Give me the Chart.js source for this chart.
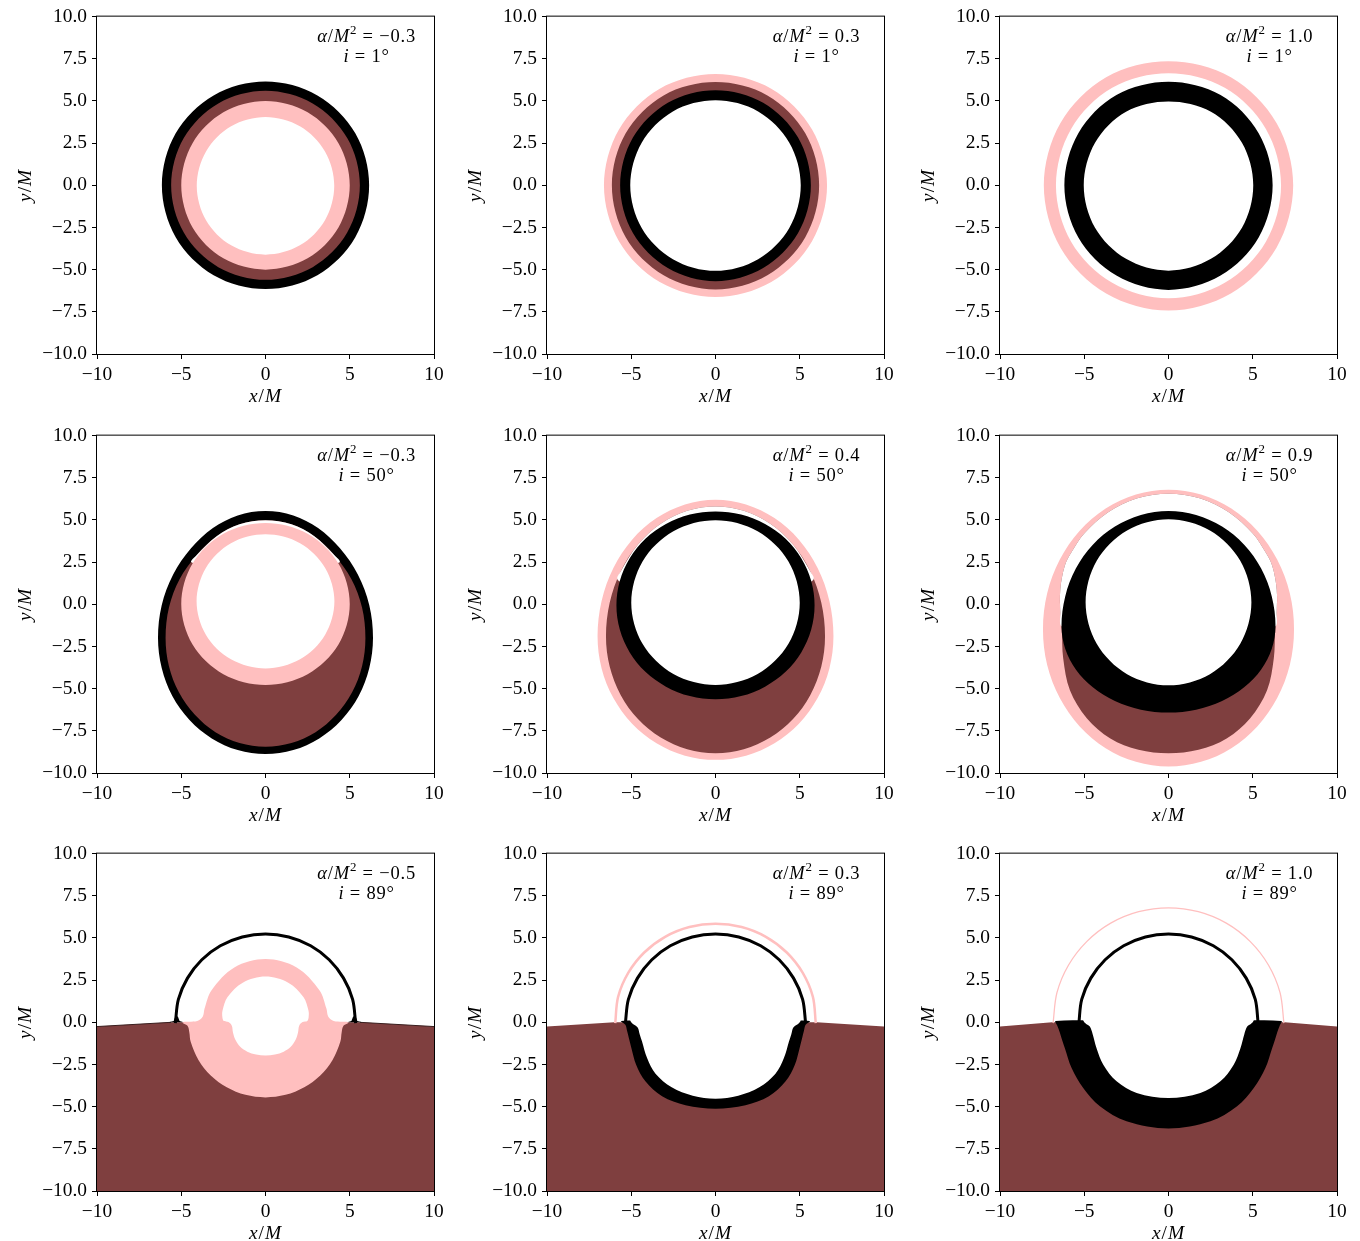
<!DOCTYPE html>
<html>
<head>
<meta charset="utf-8">
<script src="https://cdn.jsdelivr.net/npm/chart.js@4.4.1/dist/chart.umd.min.js"></script>
<style>
  html, body { margin: 0; padding: 0; background: #ffffff; }
  #fig { position: relative; width: 1360px; height: 1241px; overflow: hidden; background: #ffffff; }
  #fig canvas { position: absolute; }
</style>
</head>
<body>
<div id="fig"></div>
<script>
// ---- axes ----
const X_TICKS = [-10, -5, 0, 5, 10];
const Y_TICKS = [-10, -7.5, -5, -2.5, 0, 2.5, 5, 7.5, 10];

// ---- panel parameters (row by row) ----
const ALPHA_LABELS = ['\u22120.3', '0.3', '1.0', '\u22120.3', '0.4', '0.9', '\u22120.5', '0.3', '1.0'];
const INCLINATIONS = ['1', '1', '1', '50', '50', '50', '89', '89', '89'];

const PINK = '#ffbfbf', BROWN = '#7f3f3f', BLACK = '#000000', WHITE = '#ffffff';

// ---- image contours (x/M, y/M); left halves listed from top to bottom ----
// i = 1 deg
const P1_BLACK = [[0,6.15],[-3.08,5.33],[-5.33,3.08],[-6.15,0],[-5.33,-3.08],[-3.08,-5.33],[0,-6.15]];
const P1_BROWN = [[0,5.6],[-2.8,4.85],[-4.85,2.8],[-5.6,0],[-4.85,-2.8],[-2.8,-4.85],[0,-5.6]];
const P1_PINK  = [[0,5.0],[-2.5,4.33],[-4.33,2.5],[-5.0,0],[-4.33,-2.5],[-2.5,-4.33],[0,-5.0]];
const P1_HOLE  = [[0,4.05],[-2.04,3.5],[-3.53,2.01],[-4.08,-0.03],[-3.53,-2.07],[-2.04,-3.56],[0,-4.11]];

const P2_PINK  = [[0,6.6],[-3.31,5.73],[-5.73,3.31],[-6.62,0],[-5.73,-3.31],[-3.31,-5.73],[0,-6.62]];
const P2_BROWN = [[0,6.12],[-3.08,5.33],[-5.33,3.08],[-6.15,0],[-5.33,-3.08],[-3.08,-5.33],[0,-6.17]];
const P2_BLACK = [[0,5.64],[-2.83,4.9],[-4.9,2.83],[-5.66,0],[-4.9,-2.83],[-2.83,-4.9],[0,-5.68]];
const P2_HOLE  = [[0,5.04],[-2.53,4.38],[-4.38,2.53],[-5.06,0],[-4.38,-2.53],[-2.53,-4.38],[0,-5.07]];

const P3_PINK  = [[0,7.35],[-3.7,6.41],[-6.41,3.7],[-7.4,0],[-6.41,-3.7],[-3.7,-6.41],[0,-7.42]];
const P3_GAP   = [[0,6.64],[-3.34,5.78],[-5.78,3.34],[-6.68,0],[-5.78,-3.34],[-3.34,-5.78],[0,-6.7]];
const P3_BLACK = [[0,6.14],[-3.09,5.35],[-5.35,3.09],[-6.18,0],[-5.35,-3.09],[-3.09,-5.35],[0,-6.2]];
const P3_HOLE  = [[0,4.97],[-2.52,4.36],[-4.36,2.52],[-5.03,0],[-4.36,-2.52],[-2.52,-4.36],[0,-5.06]];

// i = 50 deg
const P4_BLACK = [[0,5.53],[-1.65,5.27],[-3.12,4.52],[-4.42,3.32],[-5.48,1.77],[-6.16,-0.05],[-6.38,-2.0],[-6.16,-3.78],[-5.53,-5.44],[-4.51,-6.86],[-3.19,-7.95],[-1.65,-8.64],[0,-8.87]];
const P4_BROWN = [[0,4.98],[-1.54,4.74],[-2.9,4.04],[-4.08,2.93],[-5.1,1.49],[-5.73,-0.19],[-5.93,-2.0],[-5.73,-3.67],[-5.14,-5.22],[-4.19,-6.55],[-2.97,-7.58],[-1.54,-8.22],[0,-8.44]];
const P4_CAP   = [[0,4.98],[-1.54,4.74],[-2.9,4.04],[-4.08,2.93],[-4.4,2.5],[-3.2,2.3],[0,2.3]];
const P4_PINK  = [[0,4.82],[-2.5,4.18],[-4.33,2.42],[-5.0,0.02],[-4.33,-2.38],[-2.5,-4.14],[0,-4.78]];
const P4_HOLE  = [[0,4.15],[-2.05,3.62],[-3.54,2.16],[-4.09,0.18],[-3.54,-1.8],[-2.05,-3.26],[0,-3.8]];

const P5_PINK  = [[0,6.2],[-1.81,5.92],[-3.5,5.11],[-4.95,3.83],[-6.06,2.15],[-6.76,0.2],[-7.0,-1.9],[-6.76,-3.8],[-6.06,-5.56],[-4.95,-7.08],[-3.5,-8.24],[-1.81,-8.97],[0,-9.22]];
const P5_BROWN = [[0,5.8],[-1.68,5.54],[-3.25,4.77],[-4.6,3.54],[-5.63,1.95],[-6.28,0.09],[-6.5,-1.9],[-6.28,-3.69],[-5.63,-5.37],[-4.6,-6.8],[-3.25,-7.9],[-1.68,-8.59],[0,-8.83]];
const P5_CAP   = [[0,5.8],[-1.68,5.54],[-3.25,4.77],[-4.6,3.54],[-5.63,1.95],[-5.83,1.5],[-5.3,1.2],[-3.0,1.0],[0,1.0]];
const P5_BLACK = [[0,5.51],[-1.52,5.32],[-2.94,4.76],[-4.16,3.88],[-5.09,2.73],[-5.68,1.38],[-5.88,-0.06],[-5.68,-1.5],[-5.09,-2.85],[-4.16,-4.0],[-2.94,-4.88],[-1.52,-5.44],[0,-5.63]];
const P5_HOLE  = [[0,4.98],[-2.5,4.33],[-4.33,2.54],[-5.0,0.1],[-4.33,-2.34],[-2.5,-4.13],[0,-4.78]];

const P6_PINK  = [[0,6.79],[-1.93,6.51],[-3.73,5.68],[-5.27,4.36],[-6.45,2.65],[-7.2,0.65],[-7.45,-1.5],[-7.2,-3.6],[-6.45,-5.56],[-5.27,-7.24],[-3.73,-8.53],[-1.93,-9.34],[0,-9.62]];
const P6_BROWN = [[0,6.56],[-1.9,6.28],[-3.6,5.45],[-5.0,4.2],[-5.75,3.1],[-6.15,2.3],[-6.42,0.9],[-6.42,-0.5],[-6.33,-1.53],[-6.25,-3.2],[-5.85,-5.1],[-4.85,-6.75],[-3.45,-7.95],[-1.78,-8.62],[0,-8.83]];
const P6_CAP   = [[0,6.56],[-1.9,6.28],[-3.6,5.45],[-5.0,4.2],[-5.75,3.1],[-6.15,2.3],[-6.42,0.9],[-6.42,-0.5],[-6.36,-1.3],[-5.6,-1.1],[-3.0,-1.0],[0,-1.0]];
const P6_BLACK = [[0,5.53],[-1.64,5.3],[-3.18,4.61],[-4.49,3.53],[-5.5,2.12],[-6.13,0.47],[-6.35,-1.3],[-6.13,-2.63],[-5.5,-3.86],[-4.49,-4.92],[-3.18,-5.73],[-1.64,-6.25],[0,-6.42]];
const P6_HOLE  = [[0,5.04],[-2.46,4.38],[-4.26,2.58],[-4.92,0.12],[-4.26,-2.34],[-2.46,-4.14],[0,-4.8]];

// i = 89 deg: disk band, lensed images and thin rings (rings listed from left foot to apex)
const P7_BAND  = [[-10.5,-10.5],[-10.5,-0.28],[-5.6,0.0],[5.6,0.0],[10.5,-0.28],[10.5,-10.5],[-10.5,-10.5]];
const P7_EDGE  = [[-10.5,-0.28],[-5.6,0.0]];
const P7_PINK  = [[0,3.75],[-1.85,3.25],[-3.2,1.9],[-3.62,0.8],[-3.72,0.35],[-4.05,0.08],[-4.95,0.0],[-4.62,-0.22],[-4.52,-0.6],[-4.44,-1.15],[-3.98,-2.23],[-3.25,-3.15],[-2.3,-3.85],[-1.19,-4.3],[0,-4.45]];
const P7_HOLE  = [[0,2.71],[-1.35,2.35],[-2.25,1.5],[-2.55,0.7],[-2.56,0.3],[-2.48,0.08],[-2.2,0.02],[-2.0,-0.2],[-1.93,-0.6],[-1.78,-1.05],[-1.5,-1.45],[-1.08,-1.74],[-0.56,-1.91],[0,-1.96]];
const P7_RING  = [[-5.35,-0.05],[-5.17,1.36],[-4.63,2.62],[-3.78,3.71],[-2.68,4.54],[-1.38,5.06],[0,5.24]];
const P7_FOOT  = [[-5.75,0.0],[-5.45,0.08],[-5.35,0.35],[-5.2,0.35],[-5.1,0.08],[-4.85,0.0],[-5.75,0.0]];

const P8_BAND  = [[-10.5,-10.5],[-10.5,-0.28],[-6.0,0.0],[6.0,0.0],[10.5,-0.28],[10.5,-10.5],[-10.5,-10.5]];
const P8_BLACK = [[0,0.08],[-3.0,0.08],[-5.6,0.08],[-5.35,-0.15],[-5.25,-0.5],[-5.15,-0.9],[-4.99,-1.53],[-4.71,-2.51],[-4.16,-3.5],[-3.17,-4.39],[-1.78,-4.92],[0,-5.12]];
const P8_HOLE  = [[0,0.4],[-2.5,0.4],[-5.08,0.4],[-5.05,0.1],[-4.9,-0.1],[-4.62,-0.3],[-4.5,-0.7],[-4.36,-1.13],[-4.06,-2.12],[-3.56,-3.05],[-2.6,-3.85],[-1.35,-4.35],[0,-4.53]];
const P8_RING  = [[-5.35,-0.05],[-5.17,1.36],[-4.63,2.62],[-3.78,3.71],[-2.68,4.54],[-1.38,5.06],[0,5.23]];
const P8_OUTER = [[-5.95,-0.05],[-5.78,1.51],[-5.18,2.93],[-4.23,4.14],[-2.99,5.07],[-1.55,5.65],[0,5.85]];

const P9_BAND  = [[-10.5,-10.5],[-10.5,-0.28],[-6.9,0.0],[6.9,0.0],[10.5,-0.28],[10.5,-10.5],[-10.5,-10.5]];
const P9_BLACK = [[0,0.08],[-3.5,0.08],[-6.7,0.08],[-6.6,-0.2],[-6.45,-0.6],[-6.3,-1.1],[-6.15,-1.53],[-5.75,-2.71],[-5.06,-3.9],[-4.07,-4.98],[-2.49,-5.87],[0,-6.3]];
const P9_HOLE  = [[0,0.4],[-2.5,0.4],[-5.08,0.4],[-5.05,0.1],[-4.9,-0.08],[-4.67,-0.25],[-4.5,-0.7],[-4.27,-1.53],[-3.87,-2.51],[-3.08,-3.5],[-1.89,-4.19],[0,-4.49]];
const P9_RING  = [[-5.32,-0.05],[-5.15,1.36],[-4.61,2.62],[-3.76,3.71],[-2.66,4.54],[-1.37,5.06],[0,5.23]];
const P9_OUTER = [[-6.85,-0.05],[-6.62,1.76],[-5.93,3.4],[-4.84,4.8],[-3.43,5.88],[-1.77,6.56],[0,6.79]];

// ---- helpers turning contour lists into Chart.js point lists ----
const pts = list => list.map(([x, y]) => ({ x, y }));
const flip = list => list.map(([x, y]) => [-x, y]);
// closed outline from a left half (top -> bottom), reflected about x = 0;
// one point is repeated on each side of the seam so the spline closes smoothly
function loop(half) {
  const ring = pts(half);
  for (let i = half.length - 2; i >= 1; i--) ring.push({ x: -half[i][0], y: half[i][1] });
  const n = ring.length;
  return [ring[n - 1], ...ring, ring[0], ring[1]];
}
// open arc from the left foot to the apex, reflected about x = 0
function arc(half) {
  const out = pts(half);
  for (let i = half.length - 2; i >= 0; i--) out.push({ x: -half[i][0], y: half[i][1] });
  return out;
}
const area = (data, color, tension = 0.34) => ({
  data, showLine: true, fill: 'shape', backgroundColor: color,
  borderColor: 'rgba(0,0,0,0)', borderWidth: 0, tension, pointRadius: 0, pointHoverRadius: 0
});
const stroke = (data, color, width, tension = 0.34) => ({
  data, showLine: true, fill: false, borderColor: color, borderWidth: width, tension,
  pointRadius: 0, pointHoverRadius: 0, borderCapStyle: 'butt', borderJoinStyle: 'round'
});

// layers listed from bottom to top
const PANELS = [
  [area(loop(P1_BLACK), BLACK), area(loop(P1_BROWN), BROWN), area(loop(P1_PINK), PINK), area(loop(P1_HOLE), WHITE)],
  [area(loop(P2_PINK), PINK), area(loop(P2_BROWN), BROWN), area(loop(P2_BLACK), BLACK), area(loop(P2_HOLE), WHITE)],
  [area(loop(P3_PINK), PINK), area(loop(P3_GAP), WHITE), area(loop(P3_BLACK), BLACK), area(loop(P3_HOLE), WHITE)],
  [area(loop(P4_BLACK), BLACK), area(loop(P4_BROWN), BROWN), area(loop(P4_CAP), WHITE), area(loop(P4_PINK), PINK), area(loop(P4_HOLE), WHITE)],
  [area(loop(P5_PINK), PINK), area(loop(P5_BROWN), BROWN), area(loop(P5_CAP), WHITE), area(loop(P5_BLACK), BLACK), area(loop(P5_HOLE), WHITE)],
  [area(loop(P6_PINK), PINK), area(loop(P6_BROWN), BROWN), area(loop(P6_CAP), WHITE), area(loop(P6_BLACK), BLACK), area(loop(P6_HOLE), WHITE)],
  [area(pts(P7_BAND), BROWN, 0), area(loop(P7_PINK), PINK), area(loop(P7_HOLE), WHITE),
   stroke(pts(P7_EDGE), '#3a2020', 1, 0), stroke(pts(flip(P7_EDGE)), '#3a2020', 1, 0),
   area(pts(P7_FOOT), BLACK, 0), area(pts(flip(P7_FOOT)), BLACK, 0), stroke(arc(P7_RING), BLACK, 3)],
  [area(pts(P8_BAND), BROWN, 0), area(loop(P8_BLACK), BLACK), area(loop(P8_HOLE), WHITE),
   stroke(arc(P8_OUTER), PINK, 2.5), stroke(arc(P8_RING), BLACK, 3)],
  [area(pts(P9_BAND), BROWN, 0), area(loop(P9_BLACK), BLACK), area(loop(P9_HOLE), WHITE),
   stroke(arc(P9_OUTER), PINK, 1.3), stroke(arc(P9_RING), BLACK, 3)]
];

// ---- layout: plot-area corners of the 3 x 3 grid (px) ----
const PLOT_LEFT = [97, 547, 1000];
const PLOT_TOP = [16, 435, 853];
const PLOT_W = 337, PLOT_H = 338;
const PAD_L = 97, PAD_T = 16, PAD_R = 20, PAD_B = 62;

const SERIF = "'Liberation Serif', 'Times New Roman', serif";
const minus = v => (v < 0 ? '\u2212' : '') + Math.abs(v);

// mixed roman / italic / superscript text, centred on cx, baseline at cy
function richText(ctx, parts, cx, cy, size, spacing = 0) {
  const fontOf = s => (s === 'i' ? 'italic ' : '') + (s === 's' ? size * 0.7 : size) + 'px ' + SERIF;
  ctx.letterSpacing = spacing + 'px';
  const widths = parts.map(([t, s]) => { ctx.font = fontOf(s); return ctx.measureText(t).width; });
  let x = cx - widths.reduce((a, b) => a + b, 0) / 2;
  ctx.textAlign = 'left';
  ctx.textBaseline = 'alphabetic';
  parts.forEach(([t, s], i) => {
    ctx.font = fontOf(s);
    ctx.fillText(t, x, s === 's' ? cy - size * 0.4 : cy);
    x += widths[i];
  });
  ctx.letterSpacing = '0px';
}

const panelText = {
  id: 'panelText',
  afterDraw(chart, args, opts) {
    const { ctx, chartArea: a, scales } = chart;
    ctx.save();
    // frame
    ctx.strokeStyle = '#000';
    ctx.lineWidth = 1;
    ctx.strokeRect(a.left - 0.5, a.top - 0.5, a.right - a.left + 1, a.bottom - a.top + 1);
    ctx.fillStyle = '#000';
    // axis titles
    const midX = (a.left + a.right) / 2, midY = (a.top + a.bottom) / 2;
    richText(ctx, [['x', 'i'], ['/', 'r'], ['M', 'i']], midX, a.bottom + 48, 19.4, 1);
    ctx.save();
    ctx.translate(a.left - 66, midY);
    ctx.rotate(-Math.PI / 2);
    richText(ctx, [['y', 'i'], ['/', 'r'], ['M', 'i']], 0, 0, 19.4, 1);
    ctx.restore();
    // parameter labels
    const tx = scales.x.getPixelForValue(6.0);
    richText(ctx, [['\u03b1', 'i'], ['/', 'r'], ['M', 'i'], ['2', 's'], [' = ' + opts.alpha, 'r']], tx, a.top + 25, 18.5, 0.8);
    richText(ctx, [['i', 'i'], [' = ' + opts.inc + '\u00b0', 'r']], tx, a.top + 45, 18.5, 0.8);
    ctx.restore();
  }
};

const fig = document.getElementById('fig');
PANELS.forEach((layers, k) => {
  const col = k % 3, row = Math.floor(k / 3);
  const W = PAD_L + PLOT_W + PAD_R, H = PAD_T + PLOT_H + PAD_B;
  const cv = document.createElement('canvas');
  cv.width = W; cv.height = H;
  cv.style.width = W + 'px'; cv.style.height = H + 'px';
  cv.style.left = (PLOT_LEFT[col] - PAD_L) + 'px';
  cv.style.top = (PLOT_TOP[row] - PAD_T) + 'px';
  fig.appendChild(cv);
  layers.forEach((d, i) => { d.order = layers.length - i; });

  const tickFont = { family: SERIF, size: 19.4 };
  const grid = { display: true, drawOnChartArea: false, drawTicks: true, tickLength: 5, color: '#000', lineWidth: 1 };
  new Chart(cv, {
    type: 'scatter',
    data: { datasets: layers },
    options: {
      responsive: false,
      animation: false,
      events: [],
      layout: { padding: { left: 0, top: PAD_T, right: PAD_R, bottom: 0 } },
      plugins: {
        legend: { display: false },
        tooltip: { enabled: false },
        panelText: { alpha: ALPHA_LABELS[k], inc: INCLINATIONS[k] }
      },
      scales: {
        x: {
          type: 'linear', min: -10, max: 10,
          afterBuildTicks: s => { s.ticks = X_TICKS.map(v => ({ value: v })); },
          afterFit: s => { s.height = PAD_B; },
          grid, border: { display: false },
          ticks: { color: '#000', font: tickFont, padding: 4, maxRotation: 0, autoSkip: false, callback: v => minus(v) }
        },
        y: {
          type: 'linear', min: -10, max: 10,
          afterBuildTicks: s => { s.ticks = Y_TICKS.map(v => ({ value: v })); },
          afterFit: s => { s.width = PAD_L; },
          grid, border: { display: false },
          ticks: { color: '#000', font: tickFont, padding: 5, autoSkip: false, callback: v => (v < 0 ? '\u2212' : '') + Math.abs(v).toFixed(1) }
        }
      }
    },
    plugins: [panelText]
  });
});
</script>
</body>
</html>
